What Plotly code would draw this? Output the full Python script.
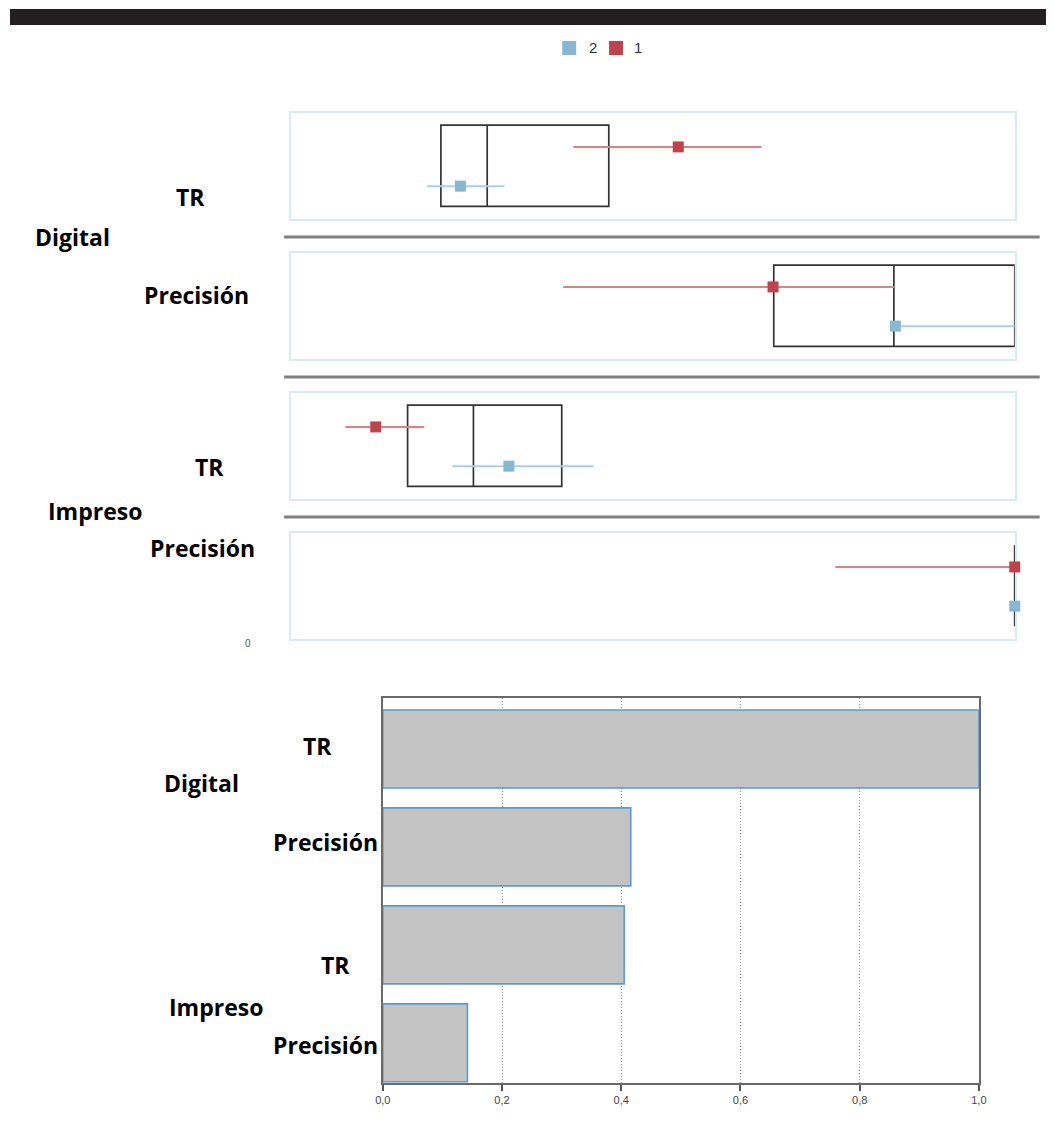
import plotly.graph_objects as go

W, H = 1054, 1131

# ---------------- data ----------------
groups = ["Digital", "Digital", "Impreso", "Impreso"]
measures = ["TR", "Precisión", "TR", "Precisión"]

box_q1 = [0.207, 0.667, 0.161, 1.0]
box_med = [0.271, 0.833, 0.252, 1.0]
box_q3 = [0.439, 1.0, 0.374, 1.0]

s1_mean = [0.535, 0.666, 0.117, 1.0]
s1_lo = [0.390, 0.376, 0.075, 0.752]
s1_hi = [0.650, 0.834, 0.184, 1.0]

s2_mean = [0.234, 0.835, 0.301, 1.0]
s2_lo = [0.188, 0.835, 0.223, 1.0]
s2_hi = [0.295, 1.0, 0.418, 1.0]

bar_values = [1.0, 0.416, 0.405, 0.142]
x_ticks = [0.0, 0.2, 0.4, 0.6, 0.8, 1.0]

series_names = ["2", "1"]
BLUE, RED = "#86b8d3", "#c2424b"
BLUE_L, RED_L = "#a9d0e6", "#de8087"

# ---------------- layout helpers ----------------
def px(x):
    # horizontal pixel position -> paper fraction (small correction for the capture)
    return min(max((x - 6) / 0.988 / W, 0.0), 1.0)

def py(y):
    return 1 - y / H

panel_tops = [113, 253, 393, 533]
panel_h = 106
PX0, PX1 = 290, 1016
Y_S1, Y_S2 = 0.68, 0.31   # row positions inside each panel
BOX_Y0, BOX_Y1 = 0.12, 0.885

fig = go.Figure()
layout = dict(
    width=W, height=H,
    margin=dict(l=0, r=0, t=0, b=0),
    paper_bgcolor="white", plot_bgcolor="white",
    separators=",.",
    showlegend=False,
)
shapes = []
annotations = []

for i in range(4):
    k = i + 1
    xa = "xaxis" if k == 1 else f"xaxis{k}"
    ya = "yaxis" if k == 1 else f"yaxis{k}"
    xr = "x" if k == 1 else f"x{k}"
    yr = "y" if k == 1 else f"y{k}"
    top = panel_tops[i]
    layout[xa] = dict(domain=[px(PX0), px(PX1)], range=[0, 1.0], anchor=yr,
                      showgrid=False, zeroline=False, showticklabels=False, ticks="",
                      showline=True, mirror=True, linecolor="#d6eaf7", linewidth=2,
                      layer="below traces")
    layout[ya] = dict(domain=[py(top + panel_h), py(top)], range=[0, 1], anchor=xr,
                      showgrid=False, zeroline=False, showticklabels=False, ticks="",
                      showline=True, mirror=True, linecolor="#d6eaf7", linewidth=2,
                      layer="below traces")
    # box
    shapes.append(dict(type="rect", xref=xr, yref=yr, x0=box_q1[i], x1=box_q3[i],
                       y0=BOX_Y0, y1=BOX_Y1, line=dict(color="#333", width=1.7),
                       fillcolor="rgba(0,0,0,0)", layer="below"))
    shapes.append(dict(type="line", xref=xr, yref=yr, x0=box_med[i], x1=box_med[i],
                       y0=BOX_Y0, y1=BOX_Y1, line=dict(color="#333", width=1.7), layer="below"))
    # series 2 (blue)
    fig.add_trace(go.Scatter(
        x=[s2_mean[i]], y=[Y_S2], xaxis=xr, yaxis=yr, mode="markers",
        name=series_names[0], legendgroup="s2", showlegend=False,
        marker=dict(symbol="square", size=11, color=BLUE),
        error_x=dict(type="data", symmetric=False, array=[s2_hi[i] - s2_mean[i]],
                     arrayminus=[s2_mean[i] - s2_lo[i]], color=BLUE_L, thickness=2, width=0),
        cliponaxis=False))
    # series 1 (red)
    fig.add_trace(go.Scatter(
        x=[s1_mean[i]], y=[Y_S1], xaxis=xr, yaxis=yr, mode="markers",
        name=series_names[1], legendgroup="s1", showlegend=False,
        marker=dict(symbol="square", size=11, color=RED),
        error_x=dict(type="data", symmetric=False, array=[s1_hi[i] - s1_mean[i]],
                     arrayminus=[s1_mean[i] - s1_lo[i]], color=RED_L, thickness=2, width=0),
        cliponaxis=False))

# legend (manual swatches + text)
legend_items = [(series_names[0], BLUE, 569, 593), (series_names[1], RED, 616, 638)]
for name, col, sx, tx in legend_items:
    shapes.append(dict(type="rect", xref="paper", yref="paper",
                       x0=px(sx - 7), x1=px(sx + 7), y0=py(55), y1=py(41),
                       line=dict(width=0), fillcolor=col))
    annotations.append(dict(text=name, x=px(tx), y=py(48), xref="paper", yref="paper",
                            showarrow=False, xanchor="center", yanchor="middle",
                            font=dict(family="Liberation Sans", size=15, color="#333")))

# separators between panels
for yy in [237, 377, 517]:
    shapes.append(dict(type="line", xref="paper", yref="paper", x0=px(283), x1=px(1041),
                       y0=py(yy), y1=py(yy), line=dict(color="#7f7f7f", width=3)))

# top black bar
shapes.append(dict(type="rect", xref="paper", yref="paper", x0=px(8), x1=1.0,
                   y0=py(25), y1=py(9), line=dict(width=0), fillcolor="#231f20"))

def lab(text, x, y, size=23, color="black", family="Open Sans", bold=True):
    t = f"<b>{text}</b>" if bold else text
    annotations.append(dict(text=t, x=px(x), y=py(y), xref="paper", yref="paper",
                            showarrow=False, xanchor="center", yanchor="middle",
                            font=dict(family=family, size=size, color=color)))

# top panel labels
lab(measures[0], 189, 197)
lab(groups[0], 71, 237)
lab(measures[1], 195, 295)
lab(measures[2], 208, 467)
lab(groups[2], 93, 511)
lab(measures[3], 201, 548)
lab("0", 247, 643, size=10, color="#555", family="Liberation Sans", bold=False)

# ---------------- bottom bar chart ----------------
ycat = list(range(len(bar_values)))
fig.add_trace(go.Bar(
    x=bar_values, y=ycat, orientation="h", xaxis="x5", yaxis="y5",
    marker=dict(color="#c3c3c3", line=dict(color="#5b9bd5", width=1.6)),
    width=0.796, showlegend=False))

layout["xaxis5"] = dict(domain=[px(382), px(980)], range=[0, 1.0], anchor="y5",
                        tickvals=x_ticks, tickformat=".1f",
                        ticks="outside", ticklen=6, tickcolor="#555", tickwidth=1.5,
                        tickfont=dict(family="Liberation Sans", size=11, color="#444"),
                        showgrid=True, gridcolor="#a0a0a0", griddash="1px,2px", gridwidth=1.3,
                        zeroline=False, showline=True, mirror=True, linecolor="#6a6a6a",
                        linewidth=2)
layout["yaxis5"] = dict(domain=[py(1083), py(698)], range=[3.41, -0.52], anchor="x5",
                        showticklabels=False, ticks="", showgrid=False, zeroline=False,
                        showline=True, mirror=True, linecolor="#6a6a6a", linewidth=2)

lab(measures[0], 317, 746)
lab(groups[0], 200, 783)
lab(measures[1], 325, 842)
lab(measures[2], 335, 965)
lab(groups[2], 215, 1007)
lab(measures[3], 325, 1045)

layout["shapes"] = shapes
layout["annotations"] = annotations
fig.update_layout(**layout)

fig.write_html(
    "out.html", config={"displayModeBar": False},
    post_script=("document.documentElement.style.margin='0';"
                 "document.documentElement.style.overflow='hidden';"
                 "document.body.style.margin='0';"
                 "document.body.style.overflow='hidden';"))
